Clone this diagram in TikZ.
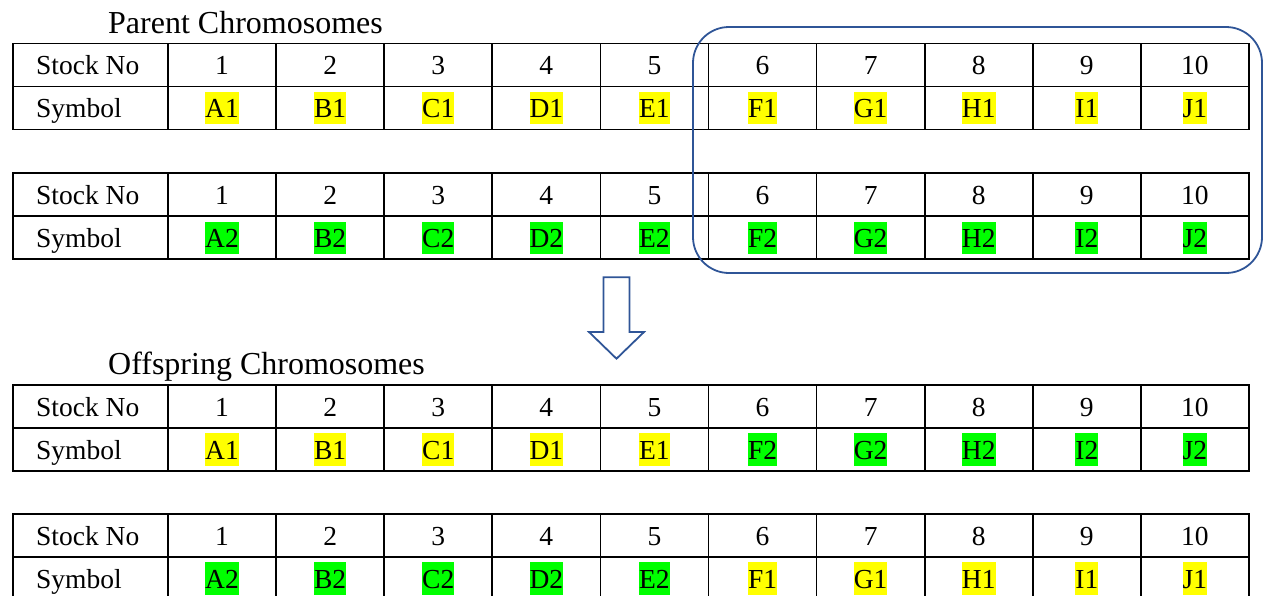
\documentclass[tikz,border=0pt]{standalone}
\usepackage{fontspec}
\setmainfont{Liberation Serif}
\definecolor{hlyellow}{HTML}{FFFF00}
\definecolor{hlgreen}{HTML}{00FF00}
\definecolor{boxblue}{HTML}{2F5597}
\tikzset{
    cell/.style={inner xsep=0pt, inner ysep=0.5pt, text height=25.5pt, text depth=6pt, font=\fontsize{27.5}{30}\selectfont},
    gene/.style={cell, fill=#1},
    title/.style={anchor=base west, inner sep=0pt, font=\fontsize{32}{36}\selectfont},
    grid/.style={line width=1.7pt},
}
% one chromosome table: name, top edge, column entries
\newcommand{\chromtable}[3]{%
    \draw[grid] (13,#2) rectangle (1249,#2+86);
    \draw[grid] (13,#2+43) -- (1249,#2+43);
    \foreach \k in {0,...,9} \draw[grid] (168+108.1*\k,#2) -- (168+108.1*\k,#2+86);
    \node[cell, anchor=west] (#1no) at (36,#2+21.5) {Stock No};
    \node[cell, anchor=west] (#1sym) at (36,#2+64.5) {Symbol};
    \foreach \k/\g/\hl in {#3} {
        \node[cell] (#1n\k) at (113.95+108.1*\k,#2+21.5) {\k};
        \node[gene=\hl] (#1s\k) at (113.95+108.1*\k,#2+64.5) {\g};
    }
}
\begin{document}
\begin{tikzpicture}[x=1pt, y=-1pt]
    \useasboundingbox (0,0) rectangle (1263,595);
    \clip (0,0) rectangle (1263,595);

    \node[title] (ptitle) at (108,33) {Parent Chromosomes};
    \chromtable{pa}{43.5}{1/A1/hlyellow, 2/B1/hlyellow, 3/C1/hlyellow, 4/D1/hlyellow, 5/E1/hlyellow,
        6/F1/hlyellow, 7/G1/hlyellow, 8/H1/hlyellow, 9/I1/hlyellow, 10/J1/hlyellow}
    \chromtable{pb}{173.3}{1/A2/hlgreen, 2/B2/hlgreen, 3/C2/hlgreen, 4/D2/hlgreen, 5/E2/hlgreen,
        6/F2/hlgreen, 7/G2/hlgreen, 8/H2/hlgreen, 9/I2/hlgreen, 10/J2/hlgreen}

    % crossover part
    \draw[boxblue, line width=1.8pt, rounded corners=36pt] (693,27) rectangle (1262,273);
    \draw[boxblue, line width=1.8pt, line join=miter] (603.5,277.3) -- (629.5,277.3) -- (629.5,332)
        -- (644,332) -- (616.5,358.7) -- (589,332) -- (603.5,332) -- cycle;

    \node[title] (otitle) at (108,374.5) {Offspring Chromosomes};
    \chromtable{oa}{385}{1/A1/hlyellow, 2/B1/hlyellow, 3/C1/hlyellow, 4/D1/hlyellow, 5/E1/hlyellow,
        6/F2/hlgreen, 7/G2/hlgreen, 8/H2/hlgreen, 9/I2/hlgreen, 10/J2/hlgreen}
    \chromtable{ob}{514}{1/A2/hlgreen, 2/B2/hlgreen, 3/C2/hlgreen, 4/D2/hlgreen, 5/E2/hlgreen,
        6/F1/hlyellow, 7/G1/hlyellow, 8/H1/hlyellow, 9/I1/hlyellow, 10/J1/hlyellow}
\end{tikzpicture}
\end{document}
